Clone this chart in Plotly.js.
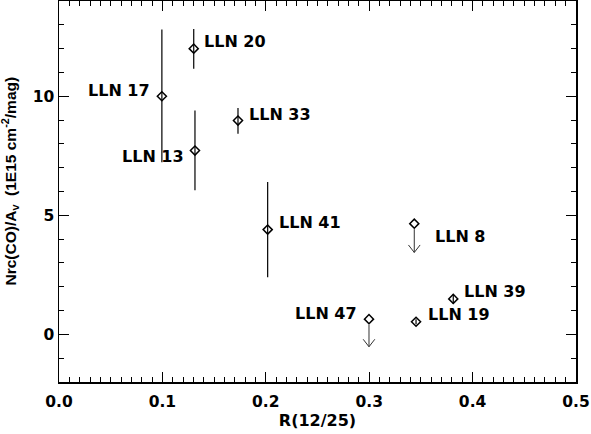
<!DOCTYPE html>
<html>
<head>
<meta charset="utf-8">
<script src="https://cdn.plot.ly/plotly-3.0.1.min.js"></script>
<style>
  body { margin: 0; background: #fff; }
  #myDiv { width: 591px; height: 434px; }
</style>
</head>
<body>
<div id="myDiv"></div>
<script>
// detected sources
var names = ['LLN 17', 'LLN 20', 'LLN 13', 'LLN 33', 'LLN 41', 'LLN 39', 'LLN 19'];
var ratio = [0.0995, 0.1303, 0.1315, 0.1731, 0.2018, 0.3813, 0.3453];
var nco = [10.0, 12.0, 7.72, 8.98, 4.40, 1.49, 0.53];
var errPlus = [2.8, 0.82, 1.68, 0.53, 2.0, 0.2, 0.1];
var errMinus = [2.77, 0.84, 1.67, 0.56, 2.0, 0.2, 0.1];

// upper limits
var limNames = ['LLN 8', 'LLN 47'];
var limRatio = [0.3436, 0.2998];
var limNco = [4.65, 0.64];
var limTip = [3.44, -0.52];

// label placement (pixels from the point)
var labelSide = {
  'LLN 17': ['right', -10, 6], 'LLN 20': ['left', 8, 7], 'LLN 13': ['right', -9, -6],
  'LLN 33': ['left', 9, 6], 'LLN 41': ['left', 9, 7], 'LLN 39': ['left', 9, 7],
  'LLN 19': ['left', 10, 7], 'LLN 8': ['left', 19, -13], 'LLN 47': ['right', -10, 6]
};

var wideFont = 'DejaVu Sans, sans-serif';
var tickFont = {family: wideFont, size: 15.5, color: 'black', weight: 'bold'};

var data = [{
  x: ratio,
  y: nco,
  type: 'scatter',
  mode: 'markers',
  marker: {symbol: 'diamond-open', size: 7, color: 'black', line: {width: 1.5, color: 'black'}},
  error_y: {type: 'data', symmetric: false, array: errPlus, arrayminus: errMinus,
            width: 0, thickness: 1.2, color: 'black'},
  hoverinfo: 'x+y'
}, {
  x: limRatio,
  y: limNco,
  type: 'scatter',
  mode: 'markers',
  marker: {symbol: 'diamond-open', size: 7, color: 'black', line: {width: 1.5, color: 'black'}},
  hoverinfo: 'x+y'
}];

var annotations = [];
function addLabel(name, x, y) {
  var p = labelSide[name];
  annotations.push({
    x: x, y: y, xref: 'x', yref: 'y', text: name, showarrow: false,
    xanchor: p[0], yanchor: 'middle', xshift: p[1], yshift: p[2],
    font: {family: wideFont, size: 16, color: 'black', weight: 'bold'}
  });
}
for (var i = 0; i < names.length; i++) addLabel(names[i], ratio[i], nco[i]);

// upper limit arrows: stem from the point, then an open V at the tip
for (var j = 0; j < limNames.length; j++) {
  addLabel(limNames[j], limRatio[j], limNco[j]);
  annotations.push({
    x: limRatio[j], y: limTip[j], ax: limRatio[j], ay: limNco[j],
    xref: 'x', yref: 'y', axref: 'x', ayref: 'y',
    text: '', showarrow: true, arrowhead: 0, arrowwidth: 1,
    arrowcolor: '#333', startstandoff: 4
  });
  [-7, 7].forEach(function (dx) {
    annotations.push({
      x: limRatio[j], y: limTip[j], xref: 'x', yref: 'y', ax: dx, ay: -9,
      text: '', showarrow: true, arrowhead: 0, arrowwidth: 1, arrowcolor: '#333'
    });
  });
}

// y axis title, placed by hand
annotations.push({
  xref: 'paper', yref: 'paper', x: 0, y: 0.5, xshift: -49, yshift: 10,
  xanchor: 'center', yanchor: 'middle', textangle: -90, showarrow: false,
  text: 'Nrc(CO)/A<sub>v</sub>  (1E15 cm<sup>-2</sup>/mag)',
  font: {family: 'Liberation Sans, Arial, sans-serif', size: 15.5, color: 'black', weight: 'bold'}
});

var axisStyle = {
  showline: true, linecolor: 'black', linewidth: 1.5, mirror: 'ticks',
  ticks: 'inside', ticklen: 10, tickwidth: 1, tickcolor: 'black',
  showgrid: false, zeroline: false, tickfont: tickFont
};

var layout = {
  width: 591,
  height: 434,
  margin: {l: 59, r: 15, t: 1, b: 52},
  paper_bgcolor: 'white',
  plot_bgcolor: 'white',
  showlegend: false,
  xaxis: Object.assign({}, axisStyle, {
    range: [0, 0.5], dtick: 0.1, tick0: 0, tickformat: '.1f', ticklabelstandoff: 5,
    minor: {dtick: 0.01, ticks: 'inside', ticklen: 5, tickcolor: 'black', tickwidth: 1},
    title: {text: 'R(12/25)', font: {family: wideFont, size: 16, color: 'black', weight: 'bold'}, standoff: 2}
  }),
  yaxis: Object.assign({}, axisStyle, {
    range: [-2, 14], dtick: 5, tick0: 0,
    minor: {dtick: 1, ticks: 'inside', ticklen: 5, tickcolor: 'black', tickwidth: 1}
  }),
  annotations: annotations
};

Plotly.newPlot('myDiv', data, layout, {displayModeBar: false, staticPlot: true});
</script>
</body>
</html>
